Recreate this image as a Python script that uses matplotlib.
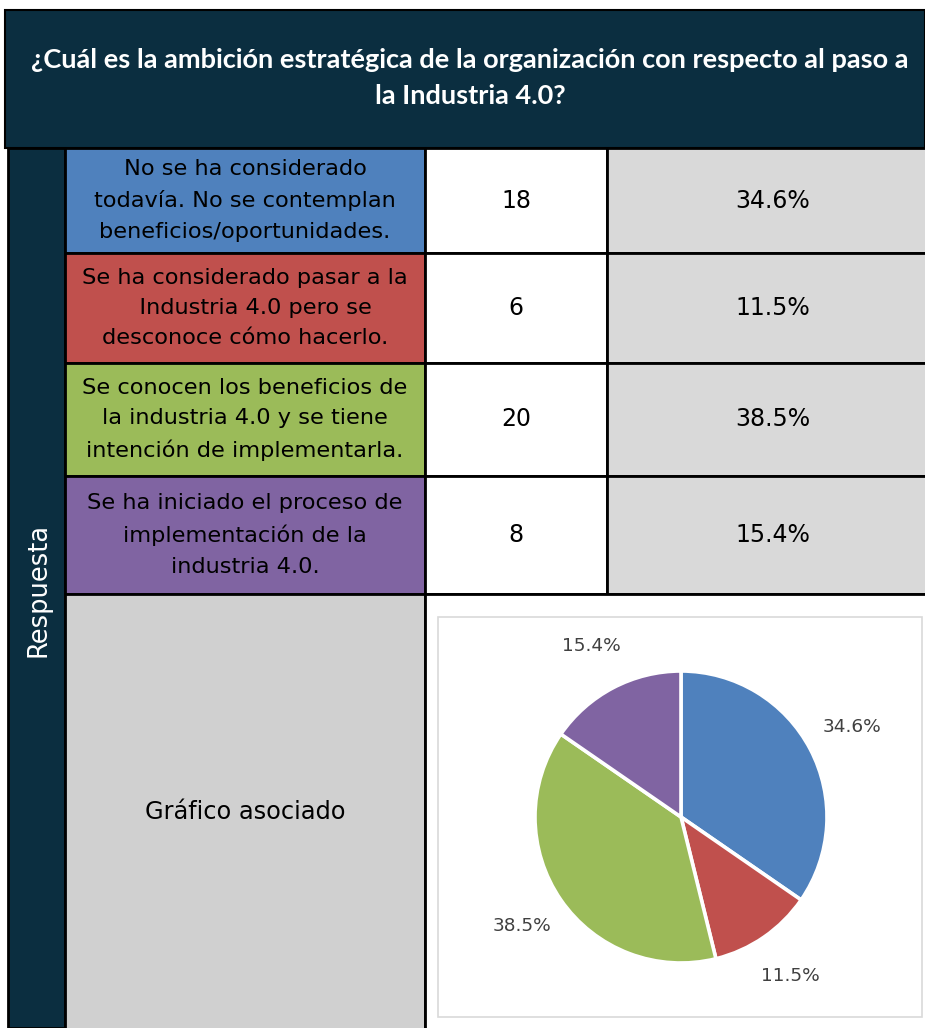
import matplotlib.pyplot as plt
from matplotlib.patches import Rectangle

# datos
titulo = "¿Cuál es la ambición estratégica de la organización con respecto al paso a\nla Industria 4.0?"
respuestas = [
    "No se ha considerado\ntodavía. No se contemplan\nbeneficios/oportunidades.",
    "Se ha considerado pasar a la\n   Industria 4.0 pero se\ndesconoce cómo hacerlo.",
    "Se conocen los beneficios de\nla industria 4.0 y se tiene\nintención de implementarla.",
    "Se ha iniciado el proceso de\nimplementación de la\nindustria 4.0.",
]
conteos = [18, 6, 20, 8]
colores = ["#4f81bd", "#c0504d", "#9bbb59", "#8064a2"]

W, H = 925, 1028
navy = "#0b2e40"
total = sum(conteos)

fig = plt.figure(figsize=(W / 100, H / 100), dpi=100)
ax = fig.add_axes([0, 0, 1, 1])
ax.set_xlim(0, W)
ax.set_ylim(H, 0)
ax.axis("off")

# cabecera
ax.add_patch(Rectangle((5, 10), W - 5, 138, facecolor=navy, edgecolor="black", lw=1.5))
ax.text(470, 78, titulo, ha="center", va="center", color="white", fontsize=19.5,
        fontweight="bold", linespacing=1.65, family=["Lato", "DejaVu Sans"])

# columna "Respuesta"
ax.add_patch(Rectangle((8, 148), 57, H - 148, facecolor=navy, edgecolor="black", lw=2))
ax.text(38, 590, "Respuesta", rotation=90, ha="center", va="center", color="white", fontsize=18.5)

# filas
bordes = [148, 253, 363, 476, 594]
for i, (txt, n, c) in enumerate(zip(respuestas, conteos, colores)):
    y0, y1 = bordes[i], bordes[i + 1]
    ax.add_patch(Rectangle((65, y0), 360, y1 - y0, facecolor=c, edgecolor="black", lw=2))
    ax.add_patch(Rectangle((425, y0), 182, y1 - y0, facecolor="white", edgecolor="black", lw=2))
    ax.add_patch(Rectangle((607, y0), 330, y1 - y0, facecolor="#d9d9d9", edgecolor="black", lw=2))
    ym = (y0 + y1) / 2
    ax.text(245, ym, txt, ha="center", va="center", fontsize=16.2, linespacing=1.65)
    ax.text(516, ym, str(n), ha="center", va="center", fontsize=17)
    ax.text(773, ym, f"{100 * n / total:.1f}%", ha="center", va="center", fontsize=17)

# celda del gráfico
ax.add_patch(Rectangle((65, 594), 360, H - 594 + 5, facecolor="#d0d0d0", edgecolor="black", lw=2))
ax.add_patch(Rectangle((425, 594), 510, H - 594 + 5, facecolor="white", edgecolor="black", lw=2))
ax.text(245, 812, "Gráfico asociado", ha="center", va="center", fontsize=17.3)
ax.add_patch(Rectangle((438, 617), 484, 400, facecolor="white", edgecolor="#d9d9d9", lw=1.2))

# pastel
cx, cy, r = 681, 817, 146
pax = fig.add_axes([(cx - r) / W, 1 - (cy + r) / H, 2 * r / W, 2 * r / H])
wedges, _, autotexts = pax.pie(conteos, colors=colores, startangle=90, counterclock=False,
                               radius=1, autopct="%.1f%%", pctdistance=1.32,
                               wedgeprops=dict(edgecolor="white", linewidth=2.6),
                               textprops=dict(color="#404040", fontsize=13.3))
pax.set_xlim(-1, 1)
pax.set_ylim(-1, 1)
pax.set_aspect("auto")
pax.axis("off")

fig.savefig("out.png", dpi=100)
